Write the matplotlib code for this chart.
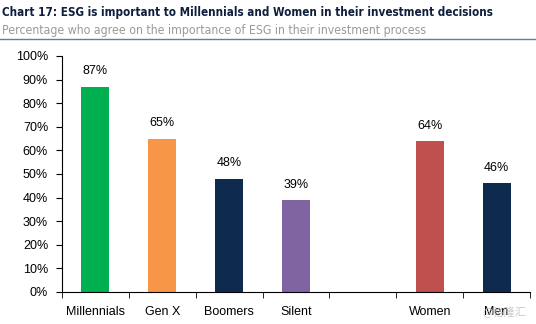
import matplotlib.pyplot as plt
import numpy as np

# Survey data
categories = ['Millennials', 'Gen X', 'Boomers', 'Silent', '', 'Women', 'Men']
values = [87, 65, 48, 39, None, 64, 46]
colors = ['#00B050', '#F79646', '#0F2A4F', '#8064A2', None, '#C0504D', '#0F2A4F']
yticks = list(range(0, 101, 10))

fig = plt.figure(figsize=(5.36, 3.24), dpi=100)
ax = fig.add_axes([62 / 536, 32 / 324, (530 - 62) / 536, (292 - 56) / 324])

x = np.arange(len(categories))
for xi, v, c in zip(x, values, colors):
    if v is None:
        continue
    ax.bar(xi, v, width=0.42, color=c)
    ax.text(xi, v + 4, f'{v}%', ha='center', va='bottom', fontsize=9,
            family='Liberation Sans')

ax.set_xlim(-0.5, len(categories) - 0.5)
ax.set_ylim(0, 100)
ax.set_yticks(yticks)
ax.set_yticklabels([f'{t}%' for t in yticks], fontsize=9, family='Liberation Sans')
ax.set_xticks(x)
ax.set_xticklabels(categories, fontsize=9, family='Liberation Sans')
ax.tick_params(axis='x', which='major', length=0, pad=10)
ax.set_xticks(np.arange(-0.5, len(categories), 1), minor=True)
ax.tick_params(axis='x', which='minor', length=4, direction='out')
ax.tick_params(axis='y', length=4, direction='out', pad=6)
for s in ['top', 'right']:
    ax.spines[s].set_visible(False)

fig.text(0.004, 0.96, 'Chart 17: ESG is important to Millennials and Women in their investment decisions',
         fontsize=8.4, fontweight='bold', color='#0F1F3D', family='DejaVu Sans',
         fontstretch='condensed', va='center')
fig.text(0.004, 0.907, 'Percentage who agree on the importance of ESG in their investment process',
         fontsize=8.8, color='#9A9A9A', family='DejaVu Sans', fontstretch='condensed',
         va='center')
fig.add_artist(plt.Line2D([0, 1], [0.88, 0.88], color='#5B7DB1', lw=1))

fig.text(0.94, 0.035, '@格隆汇', fontsize=8, color='#BBBBBB', alpha=0.8,
         family=['Noto Sans CJK SC', 'DejaVu Sans'], ha='center', va='center')

fig.savefig('out.png', dpi=100)
